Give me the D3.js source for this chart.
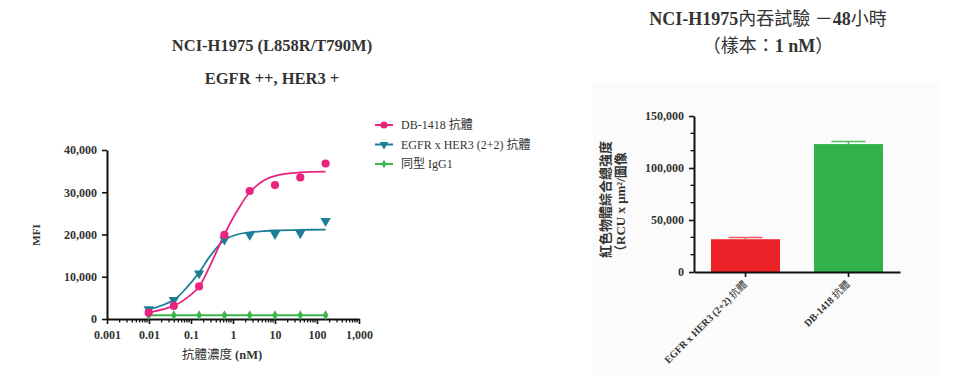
<!DOCTYPE html>
<html>
<head>
<meta charset="utf-8">
<script src="https://cdn.jsdelivr.net/npm/d3@7.9.0/dist/d3.min.js"></script>
<style>
  html, body { margin: 0; padding: 0; background: #fff; }
  svg { display: block; }
  text { font-family: "Liberation Serif", "Noto Sans CJK TC", serif; fill: #333; }
</style>
</head>
<body>
<div id="chart"></div>
<script>
// ---- data ----
// left chart: MFI vs antibody concentration (nM)
const conc = [0.0098, 0.039, 0.156, 0.625, 2.5, 10, 40, 160];
const db1418 = [1500, 3100, 7700, 19900, 30300, 31700, 33500, 36800];
const bispecific = [2300, 4500, 10800, 18800, 19900, 20100, 20300, 23200];
const isotype = [900, 900, 900, 900, 900, 900, 900, 900];

// fitted curves, points
const fitConc = [0.0098, 0.039, 0.08, 0.156, 0.29, 0.625, 1.26, 2.5, 5.4, 10, 40, 160];
const db1418Fit = [1500, 3100, 5000, 7700, 12800, 20000, 25600, 30000, 32800, 33900, 34700, 34900];
const bispecificFit = [2200, 4500, 7500, 11000, 15000, 18700, 20000, 20500, 20800, 20950, 21100, 21150];

const seriesNames = ["DB-1418 抗體", "EGFR x HER3 (2+2) 抗體", "同型 IgG1"];
const xTickValues = [0.001, 0.01, 0.1, 1, 10, 100, 1000];
const xTickLabels = ["0.001", "0.01", "0.1", "1", "10", "100", "1,000"];
const yTickValues = [0, 10000, 20000, 30000, 40000];

// right chart: internalisation at 48 h
const barCats = ["EGFR x HER3 (2+2) 抗體", "DB-1418 抗體"];
const barValues = [31500, 123000];
const barErrors = [1600, 2600];
const barTicks = [0, 50000, 100000, 150000];

const colors = {pink: "#e8247f", teal: "#1c7d97", green: "#3bb54a", red: "#ec2027", barGreen: "#33b24c"};

const svg = d3.select("#chart").append("svg")
    .attr("width", 960)
    .attr("height", 376);

// light panel behind right chart
svg.append("rect")
    .attr("x", 593).attr("y", 82)
    .attr("width", 347).attr("height", 294)
    .attr("fill", "#fbfbfb");

// Latin bold serif, CJK runs in normal weight
function richText(sel, str) {
    str.split(/([\u3000-\u9fff\uff00-\uffef]+)/).filter(s => s.length).forEach(part => {
        const cjk = /[\u3000-\u9fff\uff00-\uffef]/.test(part);
        sel.append("tspan")
            .attr("font-family", cjk ? "Noto Sans CJK TC" : null)
            .attr("font-weight", cjk ? "normal" : null)
            .text(part);
    });
}

// ---------- left chart ----------
const x = d3.scaleLog().domain([0.001, 1000]).range([107, 359]);
const y = d3.scaleLinear().domain([0, 40000]).range([319, 150]);

// titles
[["NCI-H1975 (L858R/T790M)", 51], ["EGFR ++, HER3 +", 84]].forEach(([t, yy]) => {
    svg.append("text")
        .attr("x", 272).attr("y", yy)
        .attr("text-anchor", "middle")
        .attr("font-size", 16.5)
        .attr("font-weight", "bold")
        .attr("fill", "#2a2a2a")
        .text(t);
});

// x axis: major ticks with labels, minor ticks each decade
const xAxis = svg.append("g")
    .attr("transform", "translate(0,319)")
    .call(d3.axisBottom(x).tickValues(xTickValues)
        .tickFormat((d, i) => xTickLabels[i]).tickSize(5).tickSizeOuter(0).tickPadding(6));
svg.append("g")
    .attr("transform", "translate(0,319)")
    .selectAll("line")
    .data(x.ticks().filter(d => !xTickValues.some(v => Math.abs(v - d) < d * 1e-6)))
    .join("line")
    .attr("x1", d => x(d)).attr("x2", d => x(d))
    .attr("y1", 0).attr("y2", 3.5)
    .attr("stroke", "#111").attr("stroke-width", 1.3);

const yAxis = svg.append("g")
    .attr("transform", "translate(107,0)")
    .call(d3.axisLeft(y).tickValues(yTickValues)
        .tickFormat(d3.format(",")).tickSize(5).tickSizeOuter(0).tickPadding(5));

[xAxis, yAxis].forEach(g => {
    g.select(".domain").attr("stroke", "#111").attr("stroke-width", 2);
    g.selectAll(".tick line").attr("stroke", "#111").attr("stroke-width", 1.6);
    g.selectAll(".tick text")
        .attr("font-family", "Liberation Serif")
        .attr("font-weight", "bold")
        .attr("font-size", 12)
        .attr("fill", "#333");
});

// axis titles
const xTitle = svg.append("text")
    .attr("x", 222).attr("y", 359)
    .attr("text-anchor", "middle")
    .attr("font-size", 12.5)
    .attr("font-weight", "bold")
    .attr("fill", "#444");
richText(xTitle, "抗體濃度 (nM)");

svg.append("text")
    .attr("transform", "translate(40,235) rotate(-90)")
    .attr("text-anchor", "middle")
    .attr("font-size", 11)
    .attr("font-weight", "bold")
    .text("MFI");

// curves
const line = d3.line()
    .x(d => x(d[0]))
    .y(d => y(d[1]))
    .curve(d3.curveCatmullRom.alpha(0.5));

svg.append("path")
    .datum(d3.zip(conc, isotype))
    .attr("fill", "none")
    .attr("stroke", colors.green)
    .attr("stroke-width", 2)
    .attr("d", line);

svg.append("path")
    .datum(d3.zip(fitConc, bispecificFit))
    .attr("fill", "none")
    .attr("stroke", colors.teal)
    .attr("stroke-width", 1.8)
    .attr("d", line);

svg.append("path")
    .datum(d3.zip(fitConc, db1418Fit))
    .attr("fill", "none")
    .attr("stroke", colors.pink)
    .attr("stroke-width", 1.8)
    .attr("d", line);

// markers
const triDown = d3.symbol().type(d3.symbolTriangle).size(46);
const diamond = d3.symbol().type(d3.symbolDiamond).size(28);

svg.append("g").selectAll("path")
    .data(d3.zip(conc, isotype))
    .join("path")
    .attr("transform", d => `translate(${x(d[0])},${y(d[1])})`)
    .attr("d", diamond)
    .attr("fill", colors.green);

svg.append("g").selectAll("path")
    .data(d3.zip(conc, bispecific))
    .join("path")
    .attr("transform", d => `translate(${x(d[0])},${y(d[1])}) rotate(180)`)
    .attr("d", triDown)
    .attr("fill", colors.teal);

svg.append("g").selectAll("circle")
    .data(d3.zip(conc, db1418))
    .join("circle")
    .attr("cx", d => x(d[0]))
    .attr("cy", d => y(d[1]))
    .attr("r", 4.1)
    .attr("fill", colors.pink);

// legend
const legendColors = [colors.pink, colors.teal, colors.green];
const legend = svg.append("g").attr("transform", "translate(375,125)");
seriesNames.forEach((name, i) => {
    const row = legend.append("g").attr("transform", `translate(0,${i * 19.5})`);
    row.append("line")
        .attr("x1", 0).attr("x2", 18)
        .attr("stroke", legendColors[i]).attr("stroke-width", 2);
    if (i === 0) row.append("circle").attr("cx", 9).attr("r", 3.6).attr("fill", legendColors[i]);
    if (i === 1) row.append("path").attr("transform", "translate(9,0) rotate(180)")
        .attr("d", d3.symbol().type(d3.symbolTriangle).size(32)).attr("fill", legendColors[i]);
    if (i === 2) row.append("path").attr("transform", "translate(9,0)")
        .attr("d", d3.symbol().type(d3.symbolDiamond).size(22)).attr("fill", legendColors[i]);
    row.append("text")
        .attr("x", 26).attr("y", 4)
        .attr("font-size", 12)
        .attr("fill", "#444")
        .text(name);
});

// ---------- right chart ----------
const x2 = d3.scaleBand().domain(barCats).range([694, 900])
    .paddingInner(0.33).paddingOuter(0.165);
const y2 = d3.scaleLinear().domain([0, 150000]).range([272, 116]);

[["NCI-H1975內吞試驗 －48小時", 25], ["（樣本：1 nM）", 52]].forEach(([t, yy]) => {
    const tt = svg.append("text")
        .attr("x", 768).attr("y", yy)
        .attr("text-anchor", "middle")
        .attr("font-size", 18)
        .attr("font-weight", "bold")
        .attr("fill", "#2a2a2a");
    richText(tt, t);
});

// bars
svg.append("g").selectAll("rect")
    .data(barCats)
    .join("rect")
    .attr("x", d => x2(d))
    .attr("y", (d, i) => y2(barValues[i]))
    .attr("width", x2.bandwidth())
    .attr("height", (d, i) => y2(0) - y2(barValues[i]))
    .attr("fill", (d, i) => i === 0 ? colors.red : colors.barGreen);

// error bars (upper only)
const err = svg.append("g");
barCats.forEach((c, i) => {
    const cx = x2(c) + x2.bandwidth() / 2;
    const col = i === 0 ? "#ef5b61" : "#52bd66";
    err.append("line")
        .attr("x1", cx).attr("x2", cx)
        .attr("y1", y2(barValues[i])).attr("y2", y2(barValues[i] + barErrors[i]))
        .attr("stroke", col).attr("stroke-width", 1.5);
    err.append("line")
        .attr("x1", cx - 17).attr("x2", cx + 17)
        .attr("y1", y2(barValues[i] + barErrors[i])).attr("y2", y2(barValues[i] + barErrors[i]))
        .attr("stroke", col).attr("stroke-width", 1.5);
});

const x2Axis = svg.append("g")
    .attr("transform", "translate(0,272)")
    .call(d3.axisBottom(x2).tickSize(5).tickSizeOuter(0).tickFormat(""));
const y2Axis = svg.append("g")
    .attr("transform", "translate(694,0)")
    .call(d3.axisLeft(y2).tickValues(barTicks)
        .tickFormat(d3.format(",")).tickSize(5).tickSizeOuter(0).tickPadding(5));

// minor ticks on the bar chart y axis
svg.append("g").selectAll("line")
    .data(d3.range(1, 9).filter(k => k % 3 !== 0).map(k => k * 50000 / 3))
    .join("line")
    .attr("x1", 694).attr("x2", 690.5)
    .attr("y1", d => y2(d)).attr("y2", d => y2(d))
    .attr("stroke", "#111").attr("stroke-width", 1.3);

[x2Axis, y2Axis].forEach(g => {
    g.select(".domain").attr("stroke", "#111").attr("stroke-width", 2);
    g.selectAll(".tick line").attr("stroke", "#111").attr("stroke-width", 1.6);
    g.selectAll(".tick text")
        .attr("font-family", "Liberation Serif")
        .attr("font-weight", "bold")
        .attr("font-size", 12)
        .attr("fill", "#333");
});

// rotated category labels
barCats.forEach(c => {
    const cx = x2(c) + x2.bandwidth() / 2;
    const t = svg.append("text")
        .attr("transform", `translate(${cx + 2},${285}) rotate(-45)`)
        .attr("text-anchor", "end")
        .attr("font-size", 10)
        .attr("font-weight", "bold")
        .attr("fill", "#333");
    richText(t, c);
});

// y title, two rotated lines, both starting at the bottom
[["紅色物體綜合總強度", 610], ["（RCU x μm²/圖像", 625]].forEach(([t, xx]) => {
    svg.append("text")
        .attr("transform", `translate(${xx},258) rotate(-90)`)
        .attr("text-anchor", "start")
        .attr("font-size", 13)
        .attr("font-weight", "bold")
        .attr("font-family", "Noto Sans CJK TC")
        .attr("fill", "#3a3a3a")
        .text(t);
});
</script>
</body>
</html>
